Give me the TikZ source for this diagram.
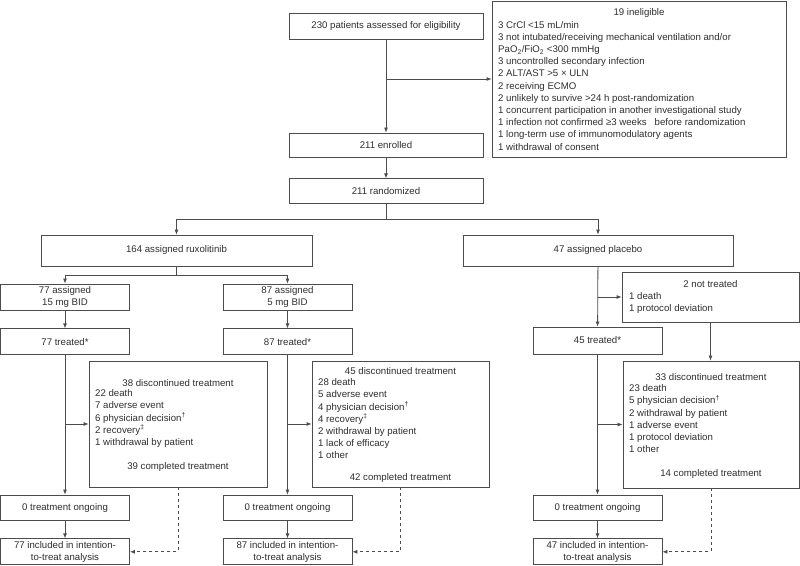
\documentclass[tikz,border=0pt]{standalone}
\usepackage{fontspec}
\setmainfont{Liberation Sans}
\usetikzlibrary{positioning, arrows.meta}

\definecolor{linegray}{gray}{0.3}
\definecolor{txtgray}{gray}{0.18}

\tikzset{
  box/.style={draw=linegray, line width=0.8pt, inner sep=0pt, text=txtgray,
    align=center, font=\fontsize{9.65}{11.5}\selectfont},
  smallbox/.style={box, minimum width=129pt, minimum height=26pt},
  txt/.style={inner sep=0pt, text=txtgray, font=\fontsize{9.65}{12.2}\selectfont},
  lst/.style={txt, align=left, anchor=north west},
  plain/.style={draw=linegray, line width=0.8pt},
  flow/.style={plain, -{Latex[length=5pt,width=4pt]}},
  back/.style={flow, dashed},
}

\begin{document}
\begin{tikzpicture}[x=1pt, y=-1pt]
\useasboundingbox (0,0) rectangle (800,565);

% screening and enrolment
\node[box, minimum width=194pt, minimum height=26pt] (assess) at (386,26) {230 patients assessed for eligibility};
\node[box, minimum width=194pt, minimum height=24pt] (enrol) at (386,145) {211 enrolled};
\node[box, minimum width=194pt, minimum height=25pt] (rand) [below=21pt of enrol] {211 randomized};

\node[box, minimum width=294pt, minimum height=156pt] (inelig) at (639,79) {};
\node[txt] (ineligh) at (639,13) {19 ineligible};
\node[lst] (inelist) at (498,21) {3 CrCl <15 mL/min\\
3 not intubated/receiving mechanical ventilation and/or\\
PaO\textsubscript{2}/FiO\textsubscript{2} <300 mmHg\\
3 uncontrolled secondary infection\\
2 ALT/AST >5 × ULN\\
2 receiving ECMO\\
2 unlikely to survive >24 h post-randomization\\
1 concurrent participation in another investigational study\\
1 infection not confirmed ≥3 weeks\ \ \ before randomization\\
1 long-term use of immunomodulatory agents\\
1 withdrawal of consent};

\coordinate (scr) at (386,79);
\draw[flow] (assess) -- (enrol);
\draw[flow] (scr) -- (scr -| inelig.west);
\draw[flow] (enrol) -- (rand);

% arms
\node[box, minimum width=271pt, minimum height=31pt] (rux) at (176.5,250.5) {164 assigned ruxolitinib};
\node[box, minimum width=270pt, minimum height=31pt] (plac) at (598,250.5) {47 assigned placebo};

\draw[plain] (rand.south) -- ++(0,15) coordinate (split);
\draw[flow] (split) -| (rux.north);
\draw[flow] (split) -| (plac.north);

% ruxolitinib 15 mg
\node[smallbox] (a15) at (65,297) {77 assigned\\15 mg BID};
\node[smallbox] (t77) [below=18pt of a15] {77 treated*};
\node[smallbox, minimum height=25pt] (o77) at (65,507.5) {0 treatment ongoing};
\node[smallbox] (i77) [below=18pt of o77] {77 included in intention-\\to-treat analysis};

% ruxolitinib 5 mg
\node[smallbox] (a5) at (287.5,297) {87 assigned\\5 mg BID};
\node[smallbox] (t87) [below=18pt of a5] {87 treated*};
\node[smallbox, minimum height=25pt] (o87) at (287.5,507.5) {0 treatment ongoing};
\node[smallbox] (i87) [below=18pt of o87] {87 included in intention-\\to-treat analysis};

\draw[plain] (rux.south) -- ++(0,9) coordinate (rsplit);
\draw[flow] (rsplit) -| (a15.north);
\draw[flow] (rsplit) -| (a5.north);

% discontinued, 15 mg
\node[box, minimum width=178pt, minimum height=126pt] (d38) at (178,424) {};
\node[txt] (d38h) at (178,383) {38 discontinued treatment};
\node[lst] (d38l) at (95,389.5) {22 death\\7 adverse event\\6 physician decision\textsuperscript{†}\\2 recovery\textsuperscript{‡}\\1 withdrawal by patient};
\node[txt] (d38c) at (178,467) {39 completed treatment};

% discontinued, 5 mg
\node[box, minimum width=177pt, minimum height=126pt] (d45) at (400.5,424) {};
\node[txt] (d45h) at (400.5,371) {45 discontinued treatment};
\node[lst] (d45l) at (318,378.5) {28 death\\5 adverse event\\4 physician decision\textsuperscript{†}\\4 recovery\textsuperscript{‡}\\2 withdrawal by patient\\1 lack of efficacy\\1 other};
\node[txt] (d45c) at (400.5,478) {42 completed treatment};

\draw[flow] (a15) -- (t77);
\draw[flow] (t77) -- (o77);
\draw[flow] (o77) -- (i77);
\draw[flow] (t77.south |- d38.west) -- (d38.west);
\draw[back] (d38.south) |- (i77.east);

\draw[flow] (a5) -- (t87);
\draw[flow] (t87) -- (o87);
\draw[flow] (o87) -- (i87);
\draw[flow] (t87.south |- d45.west) -- (d45.west);
\draw[back] (d45.south) |- (i87.east);

% placebo
\node[box, minimum width=177pt, minimum height=50pt] (nt) at (710.5,297) {};
\node[txt] (nth) at (710.5,284) {2 not treated};
\node[lst] (ntl) at (629,292.5) {1 death\\1 protocol deviation};

\node[smallbox, minimum height=27pt] (t45) at (597.5,340.5) {45 treated*};
\node[smallbox, minimum height=25pt] (o45) at (597.5,507.5) {0 treatment ongoing};
\node[smallbox] (i47) [below=18pt of o45] {47 included in intention-\\to-treat analysis};

\node[box, minimum width=176pt, minimum height=127pt] (d33) at (711,424.5) {};
\node[txt] (d33h) at (711,377) {33 discontinued treatment};
\node[lst] (d33l) at (629,384.5) {23 death\\5 physician decision\textsuperscript{†}\\2 withdrawal by patient\\1 adverse event\\1 protocol deviation\\1 other};
\node[txt] (d33c) at (711,474) {14 completed treatment};

\draw[flow] (plac) -- (t45);
\draw[flow] (plac.south |- nt.west) -- (nt.west);
\draw[flow] (nt.south) -- (nt.south |- d33.north);
\draw[flow] (t45) -- (o45);
\draw[flow] (o45) -- (i47);
\draw[flow] (t45.south |- d33.west) -- (d33.west);
\draw[back] (d33.south) |- (i47.east);
\end{tikzpicture}
\end{document}
